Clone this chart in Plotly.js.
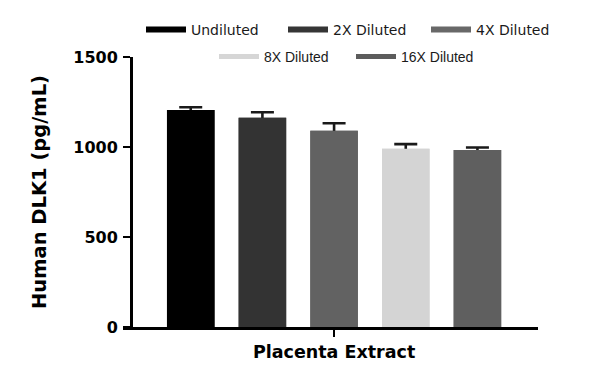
<!DOCTYPE html>
<html>
<head>
<meta charset="utf-8">
<script src="https://cdn.plot.ly/plotly-3.0.1.min.js"></script>
<style>html,body{margin:0;padding:0;background:#fff;}#chart{width:600px;height:387px;}</style>
</head>
<body>
<div id="chart"></div>
<script>
// ---- data ----
var categories = ["Placenta Extract"];
var seriesNames = ["Undiluted", "2X Diluted", "4X Diluted", "8X Diluted", "16X Diluted"];
var means = [1206, 1163, 1090, 990, 984];
var sds = [15, 30, 42, 26, 13];
var yTickVals = [0, 500, 1000, 1500];
var yTickText = ["0", "500", "1000", "1500"];

// ---- styles ----
var colors = ["#000000", "#333333", "#626262", "#d4d4d4", "#5f5f5f"];
var legendColors = ["#000000", "#353535", "#686868", "#d6d6d6", "#5c5c5c"];
var legendLineWidths = [6, 6, 6, 5, 5];
// legend entry placement (container px): left x, top y, font family
var legendX = [141, 283, 426, 214, 351];
var legendY = [14, 14, 14, 41, 41];
var legendFonts = ["DejaVu Sans", "DejaVu Sans", "DejaVu Sans", "Liberation Sans", "Liberation Sans"];

var traces = [];
// bars with error bars
for (var i = 0; i < seriesNames.length; i++) {
  traces.push({
    type: "bar", x: categories, y: [means[i]], name: seriesNames[i],
    offsetgroup: "g" + i, showlegend: false,
    marker: {color: colors[i], line: {width: 0}},
    error_y: {type: "data", array: [sds[i]], visible: true, color: "#1a1a1a", thickness: 2.6, width: 11.5}
  });
}
// identical bars on top, hiding the lower half of the error bars
for (var i = 0; i < seriesNames.length; i++) {
  traces.push({
    type: "bar", x: categories, y: [means[i]], name: seriesNames[i],
    offsetgroup: "g" + i, showlegend: false,
    marker: {color: colors[i], line: {width: 0}}
  });
}

var layout = {
  width: 600, height: 387,
  margin: {l: 123, r: 62, t: 57, b: 60, autoexpand: false},
  paper_bgcolor: "#ffffff", plot_bgcolor: "#ffffff",
  barmode: "group", bargap: 0, bargroupgap: 0.337,
  hovermode: false,
  showlegend: true,
  xaxis: {
    type: "category", range: [-0.589, 0.569], domain: [0, 1],
    showline: true, linecolor: "#000", linewidth: 2.5,
    ticks: "outside", ticklen: 7, tickwidth: 2.5, tickcolor: "#000",
    ticklabelstandoff: 0,
    tickfont: {family: "DejaVu Sans", size: 17.5, color: "#000", weight: "bold"},
    showgrid: false, zeroline: false, fixedrange: true
  },
  yaxis: {
    range: [0, 1500], anchor: "free", position: 8 / 415,
    tickvals: yTickVals, ticktext: yTickText,
    showline: true, linecolor: "#000", linewidth: 2.5,
    ticks: "outside", ticklen: 7, tickwidth: 2.5, tickcolor: "#000",
    ticklabelstandoff: 2,
    tickfont: {family: "DejaVu Sans", size: 16, color: "#000", weight: "bold"},
    title: {text: "Human DLK1 (pg/mL)", standoff: 20,
            font: {family: "DejaVu Sans", size: 19.5, color: "#000", weight: "bold"}},
    showgrid: false, zeroline: false, fixedrange: true
  }
};

// legend entries: one legend per entry so rows are laid out like the reference
for (var i = 0; i < seriesNames.length; i++) {
  var lid = i === 0 ? "legend" : "legend" + (i + 1);
  traces.push({
    type: "scatter", mode: "lines", x: categories, y: [null], name: seriesNames[i],
    legend: lid, showlegend: true,
    line: {color: legendColors[i], width: legendLineWidths[i]}
  });
  layout[lid] = {
    orientation: "h", xref: "container", yref: "container",
    x: legendX[i] / 600, y: 1 - legendY[i] / 387, xanchor: "left", yanchor: "top",
    itemwidth: 40,
    font: {family: legendFonts[i], size: 14, color: "#1a1a1a"},
    bgcolor: "rgba(0,0,0,0)", borderwidth: 0
  };
}

Plotly.newPlot("chart", traces, layout, {displayModeBar: false, staticPlot: true});
</script>
</body>
</html>
